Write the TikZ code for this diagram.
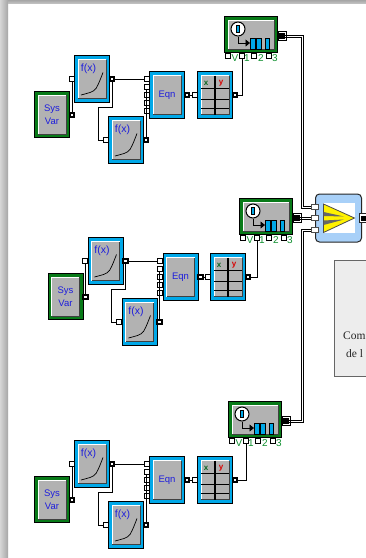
\documentclass[tikz,border=0pt]{standalone}
\usepackage{fontspec}
\setmainfont{Liberation Sans}
\newfontfamily\serifnote{Liberation Serif}
\usetikzlibrary{arrows.meta}
\definecolor{skyb}{HTML}{00A8E8}
\definecolor{grn}{HTML}{087A18}
\definecolor{face}{HTML}{B2B2B2}
\definecolor{txtb}{HTML}{1E1EDC}
\definecolor{lblg}{HTML}{109030}
\definecolor{blkblue}{HTML}{A8D0F8}
\tikzset{
  outerblue/.style={draw=black,line width=1pt,fill=skyb,minimum width=35pt,minimum height=46.5pt,inner sep=0pt,outer sep=0pt},
  outergreen/.style={draw=black,line width=1pt,fill=grn,minimum width=35pt,minimum height=46.5pt,inner sep=0pt,outer sep=0pt},
  facebox/.style={draw=none,fill=face,minimum width=28pt,minimum height=39pt,inner sep=0pt,outer sep=0pt,align=center,text=txtb,font=\fontsize{9.5}{13}\selectfont},
  portin/.style={draw=black,line width=0.9pt,fill=white,minimum size=5pt,inner sep=0pt,outer sep=0pt},
  portout/.style={draw=black,line width=1.8pt,fill=white,minimum size=4.6pt,inner sep=0pt,outer sep=0pt},
  wire/.style={draw=black,line width=0.8pt},
  trunk/.style={draw=black,line width=0.8pt},
  metlbl/.style={text=lblg,font=\fontsize{10}{10}\selectfont,inner sep=0pt},
  fxlbl/.style={text=txtb,font=\fontsize{10.5}{11}\selectfont,inner sep=0pt},
}
\newcommand{\facebevel}[1]{%
  \draw[white,line width=1pt] (#1.south west)--(#1.north west)--(#1.north east);
  \draw[black!75,line width=1pt] (#1.south west)--(#1.south east)--(#1.north east);
}
\newcommand{\fxcurve}[1]{%
  \draw[black,line width=0.7pt] ([shift={(3,-3.5)}]#1.south west) .. controls ([shift={(10,-5.5)}]#1.south west) and ([shift={(15,-6)}]#1.south west) .. ([shift={(18,-10)}]#1.south west) .. controls ([shift={(21,-15)}]#1.south west) and ([shift={(23,-21)}]#1.south west) .. ([shift={(25,-26)}]#1.south west);
}
\newcommand{\blockchain}[5]{%
\begin{scope}[shift={(#2,#3)}]
  \node[outergreen] (#1sysO) at (52,114.5) {};
  \node[facebox] (#1sys) at (52,114.5) {Sys\\Var}; \facebevel{#1sys}
  \node[portout] (#1sysout) at (72,115) {};
  \node[outerblue] (#1f1O) at (92,79) {};
  \node[facebox,anchor=center] (#1f1) at (92,79) {}; \facebevel{#1f1}
  \node[fxlbl] (#1f1t) at (88.5,68.5) {f(x)};
  \fxcurve{#1f1}
  \node[portin] (#1f1in) at (71.5,79) {};
  \node[portout] (#1f1out) at (112,79) {};
  \node[outerblue] (#1f2O) at (126,140) {};
  \node[facebox] (#1f2) at (126,140) {}; \facebevel{#1f2}
  \node[fxlbl] (#1f2t) at (122.5,129.5) {f(x)};
  \fxcurve{#1f2}
  \node[portin] (#1f2in) at (105.5,140) {};
  \node[portout] (#1f2out) at (146,140) {};
  \node[outerblue] (#1eqO) at (167,95) {};
  \node[facebox] (#1eq) at (167,95) {Eqn}; \facebevel{#1eq}
  \node[portin] (#1eqa) at (146.5,79) {};
  \node[portin] (#1eqb) at (146.5,87) {};
  \node[portin] (#1eqc) at (146.5,95) {};
  \node[portin] (#1eqd) at (146.5,103) {};
  \node[portin] (#1eqe) at (146.5,111) {};
  \node[portout] (#1eqout) at (187,95) {};
  \draw[wire] (#1sysout.north) -- (#1sysout.north |- #1f1in.south);
  \draw[wire] (#1f1out.east) -- (#1eqa.west);
  \draw[wire] (#1f1out.south) -- ++(0,26) -- ++(-14,0) |- (#1f2in.west);
  \draw[wire] (#1f2out.north) -- (#1f2out.north |- #1eqb.south);
\end{scope}
\begin{scope}[shift={(#4,#3)}]
  \node[outerblue] (#1tbO) at (215,95) {};
  \node[facebox] (#1tb) at (215,95) {}; \facebevel{#1tb}
  \draw[black,line width=0.8pt] (201,88)--(229,88) (201,99)--(229,99) (201,108)--(229,108);
  \draw[black,line width=1.6pt] (215,75.5)--(215,114.5);
  \node[text=lblg!70!black,font=\bfseries\fontsize{8}{8}\selectfont,inner sep=0pt] (#1tbx) at (206,83) {x};
  \node[text=red!85!black,font=\bfseries\fontsize{8}{8}\selectfont,inner sep=0pt] (#1tby) at (221,83) {y};
  \node[portin] (#1tbin) at (194.5,95) {};
  \node[portout] (#1tbout) at (235,95) {};
\end{scope}
\draw[wire] (#1eqout.east) -- (#1tbin.west);
\begin{scope}[shift={(#5,#3)}]
  \node[draw=black,line width=1pt,fill=grn,minimum width=53pt,minimum height=36.5pt,inner sep=0pt,outer sep=0pt] (#1mtO) at (251,34.5) {};
  \node[facebox,minimum width=46pt,minimum height=29pt] (#1mt) at (251,34.5) {}; \facebevel{#1mt}
  \node[draw=black,line width=1pt,fill=white,circle,minimum size=14pt,inner sep=0pt] (#1dial) at (238,29) {};
  \node[draw=black,line width=0.8pt,fill=skyb,minimum width=3.5pt,minimum height=7.5pt,inner sep=0pt] (#1dialn) at (238,29) {};
  \draw[black,line width=0.8pt,-{Triangle[length=4.5pt,width=7pt]}] (#1dial.south) |- (250,43);
  \foreach \bx in {253,259,267.5}{\fill[skyb,draw=black,line width=0.9pt] (\bx-2.3,38) rectangle (\bx+2.3,49);}
  \node[portin] (#1mv) at (228,55.5) {};
  \node[portin] (#1m1) at (242,55.5) {};
  \node[portin] (#1m2) at (254,55.5) {};
  \node[portin] (#1m3) at (268.5,55.5) {};
  \node[metlbl] (#1lv) at (235,58.5) {V};
  \node[metlbl] (#1l1) at (247,58.5) {1};
  \node[metlbl] (#1l2) at (261,58.5) {2};
  \node[metlbl] (#1l3) at (275,58.5) {3};
  \node[draw=black,line width=0.8pt,fill=white,minimum width=8.5pt,minimum height=8.5pt,inner sep=0pt,outer sep=0pt] (#1mo) at (282.5,36) {};
  \node[fill=black,minimum width=6.5pt,minimum height=6pt,inner sep=0pt,outer sep=0pt] (#1mob) at (281.5,36) {};
\end{scope}
\draw[wire] (#1tbout.east) -| (#1m1.south);
}
\begin{document}
\begin{tikzpicture}[x=1pt,y=-1pt]
\useasboundingbox (0,0) rectangle (366,558);
\fill[white] (0,0) rectangle (366,558);
\shade[left color=black!16,right color=black!35,draw=none] (0,0) rectangle (8,558);
\shade[top color=black!35,bottom color=black!25,draw=none] (8,0) rectangle (366,3);
\node[draw=black!60,line width=1pt,fill=black!7,minimum width=40pt,minimum height=116pt,anchor=north west,inner sep=0pt,outer sep=0pt] (note) at (334.5,260.5) {};
\node[anchor=base west,inner sep=0pt,font=\serifnote\fontsize{11.5}{12}\selectfont,text=black!85] (noteA) at (343,339) {Com};
\node[anchor=base west,inner sep=0pt,font=\serifnote\fontsize{11.5}{12}\selectfont,text=black!85] (noteB) at (346,357) {de l};
\blockchain{a}{0}{0}{0}{0}
\blockchain{b}{13.5}{182}{13}{15}
\blockchain{c}{0}{385}{0}{4}
\node[draw=black!85,line width=1pt,fill=blkblue,rounded corners=4pt,minimum width=46pt,minimum height=48pt,inner sep=0pt,outer sep=0pt] (blk) at (338.5,218) {};
\node[draw=none,fill=white,minimum width=32pt,minimum height=30pt,inner sep=0pt,outer sep=0pt] (win) at (339,218) {};
\fill[yellow,draw=black!70,line width=0.8pt] (323.5,204) -- (354.5,218) -- (323.5,232.5) -- cycle;
\fill[black!60] (323.5,212) -- (344,216.5) -- (323.5,216) -- cycle (323.5,220.5) -- (344,219.5) -- (323.5,225) -- cycle;
\node[draw=black!85,line width=0.8pt,fill=white,minimum width=8pt,minimum height=9pt,inner sep=0pt,outer sep=0pt] (op) at (363,218) {};
\fill[black] (361,215.5) rectangle (366,220.5);
\node[portin,draw=black!70,minimum width=7pt,minimum height=5pt] (ip1) at (314.5,207) {};
\node[portin,draw=black!70,minimum width=7pt,minimum height=5pt] (ip2) at (314.5,218) {};
\node[portin,draw=black!70,minimum width=7pt,minimum height=5pt] (ip3) at (314.5,230) {};
% double trunks, each as two parallel black lines
\coordinate (ta1) at (303,206);
\coordinate (ta2) at (301,208);
\coordinate (tc1) at (303,231);
\coordinate (tc2) at (301,229);
\draw[trunk] ([yshift=1pt]amob.east) -| (ta1) -- (ta1 -| ip1.west);
\draw[trunk] ([yshift=-1pt]amob.east) -| (ta2) -- (ta2 -| ip1.west);
\draw[trunk] ([yshift=1pt]bmob.east) -- ([yshift=1pt]ip2.west);
\draw[trunk] ([yshift=-1pt]bmob.east) -- ([yshift=-1pt]ip2.west);
\draw[trunk] ([yshift=-1pt]cmob.east) -| (tc1) -- (tc1 -| ip3.west);
\draw[trunk] ([yshift=1pt]cmob.east) -| (tc2) -- (tc2 -| ip3.west);
\end{tikzpicture}
\end{document}
